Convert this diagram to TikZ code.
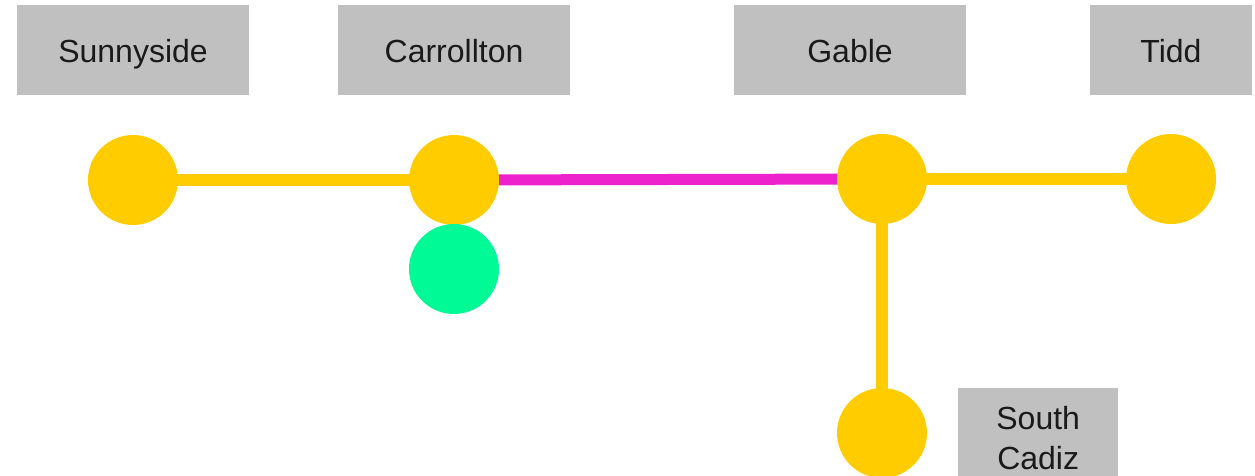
\documentclass[tikz,border=0pt]{standalone}
\usepackage{fontspec}
\setmainfont{Liberation Sans}
\usetikzlibrary{backgrounds}
\definecolor{stnyellow}{HTML}{FFCC00}
\definecolor{stngreen}{HTML}{00FA96}
\definecolor{linemag}{HTML}{EE22CC}
\definecolor{lblgray}{HTML}{C0C0C0}
\definecolor{lbltext}{HTML}{1A1A1A}
\tikzset{
  station/.style={circle, fill=stnyellow, minimum size=90pt, inner sep=0pt},
  greenstation/.style={circle, fill=stngreen, minimum size=90pt, inner sep=0pt},
  lbl/.style={fill=lblgray, text=lbltext, inner sep=0pt, minimum height=90pt,
    font=\fontsize{32}{40}\selectfont, align=center},
  onelbl/.style={lbl, text height=25pt, text depth=0pt},
  yline/.style={draw=stnyellow, line width=12pt},
  mline/.style={draw=linemag, line width=11pt}
}
\begin{document}
\begin{tikzpicture}[x=1pt,y=-1pt]
\useasboundingbox (0,0) rectangle (1255,476);
% labels
\node[onelbl, minimum width=232pt] (lsunny) at (133,50) {Sunnyside};
\node[onelbl, minimum width=232pt] (lcarr) at (454,50) {Carrollton};
\node[onelbl, minimum width=232pt] (lgable) at (850,50) {Gable};
\node[onelbl, minimum width=162pt] (ltidd) at (1171,50) {Tidd};
\begin{scope}
\clip (0,0) rectangle (1255,476);
\node[lbl, minimum width=160pt, minimum height=100pt, anchor=north west] (lsouth) at (958,388) {South\\Cadiz};
% stations
\node[station] (sunny) at (133,180) {};
\node[station] (carr) at (454,180) {};
\node[station] (gable) at (882,179) {};
\node[station] (tidd) at (1171,179) {};
\node[station] (south) at (882,433) {};
\node[greenstation] (carrg) at (454,269) {};
\end{scope}
\begin{scope}[on background layer]
\draw[yline] (sunny.center) -- (carr.center);
\draw[mline] (carr.center) -- (gable.center);
\draw[yline] (gable.center) -- (tidd.center);
\draw[yline] (gable.center) -- (south.center);
\end{scope}
\end{tikzpicture}
\end{document}
